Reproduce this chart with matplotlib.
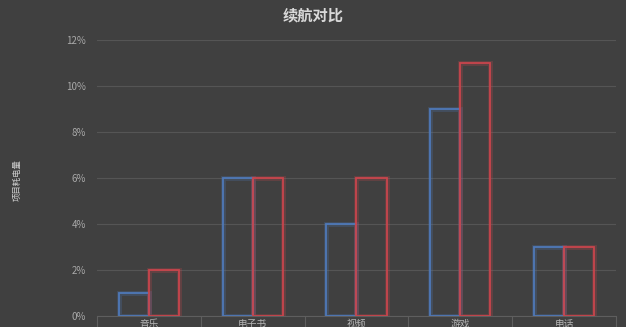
import numpy as np
import matplotlib.pyplot as plt
from matplotlib.ticker import FixedLocator

plt.rcParams['font.family'] = ['Noto Sans CJK SC', 'DejaVu Sans']

# data (percent)
categories = ['音乐', '电子书', '视频', '游戏', '电话']
series_a = [1, 6, 4, 9, 3]
series_b = [2, 6, 6, 11, 3]
yticks = [0, 2, 4, 6, 8, 10, 12]

bg = '#404040'
blue = '#4f79b8'
red = '#c9454c'

fig = plt.figure(figsize=(6.26, 3.27), dpi=100)
fig.patch.set_facecolor(bg)
ax = fig.add_axes([97/626, 11/327, 519/626, 276/327])
ax.set_facecolor(bg)

x = np.arange(len(categories))
w = 0.29
# soft glow then sharp outline
for vals, col, off in [(series_a, blue, -w/2), (series_b, red, w/2)]:
    ax.bar(x + off, vals, w, fill=False, edgecolor=col, linewidth=3.5, alpha=0.25, zorder=3)
    ax.bar(x + off, vals, w, fill=False, edgecolor=col, linewidth=1.3, zorder=4)

ax.set_xlim(-0.5, len(categories) - 0.5)
ax.set_ylim(0, 12)
ax.set_yticks(yticks)
ax.set_yticklabels([f'{v}%' for v in yticks], color='#a9a9a9', fontsize=7)
ax.tick_params(axis='y', length=0, pad=8)
ax.grid(axis='y', color='#555555', linewidth=0.8, zorder=0)

ax.set_xticks(x)
ax.set_xticklabels(categories, color='#b5b5b5', fontsize=7)
ax.tick_params(axis='x', which='major', length=0, pad=2)
ax.xaxis.set_minor_locator(FixedLocator(np.arange(-0.5, len(categories), 1.0)))
ax.tick_params(axis='x', which='minor', length=12, width=0.8, color='#5e5e5e')

for s in ['top', 'right', 'left']:
    ax.spines[s].set_visible(False)
ax.spines['bottom'].set_color('#5e5e5e')
ax.spines['bottom'].set_linewidth(0.8)

fig.text(0.5, 1 - 15/327, '续航对比', ha='center', va='center', color='#d9d9d9',
         fontsize=11, fontweight='bold')
fig.text(17/626, 1 - 180/327, '项目耗电量', ha='center', va='center', color='#cfcfcf',
         fontsize=6, rotation=90)

fig.savefig('out.png', dpi=100, facecolor=bg)
